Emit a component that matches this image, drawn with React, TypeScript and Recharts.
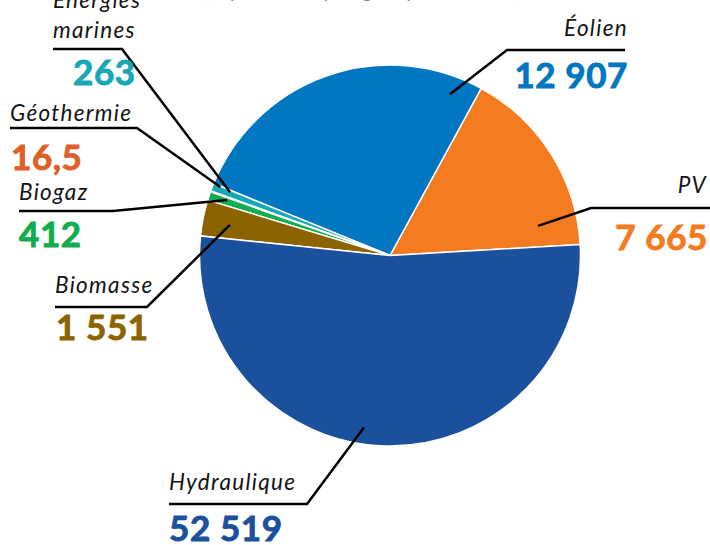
import React from 'react';
import { PieChart, Pie, Cell } from 'recharts';

// slice order goes counter-clockwise from 3 o'clock
const categories = ['PV', 'Éolien', 'Énergies marines', 'Géothermie', 'Biogaz', 'Biomasse', 'Hydraulique'];
const printedValues = [7665, 12907, 263, 16.5, 412, 1551, 52519];
// slice sizes as drawn in the picture (degrees of arc)
const sliceShares = [58.1, 96.4, 2.4, 0.3, 2.6, 11, 189.2];
const sliceColors = ['#f47b20', '#0077c0', '#17a7b6', '#e0602a', '#12ad50', '#8b6400', '#1b509d'];

const data = categories.map((name, i) => ({ name, share: sliceShares[i], printed: printedValues[i] }));

// leader lines: anchor in polar coords around the pie, then elbow and horizontal run
const labelLayout = [
    { angle: 11.3, r: 151, elbow: [591, 208], end: 712, anchor: 'end', nameXY: [707, 193], valXY: [708, 250] },
    { angle: 69.6, r: 172, elbow: [507, 50], end: 625, anchor: 'end', nameXY: [628, 36], valXY: [628, 88] },
    { angle: 158.4, r: 172, elbow: [122, 49], end: 53, anchor: 'start', nameXY: [53, 38], valXY: [73, 85], lines: ['Énergies', 'marines'] },
    { angle: 158.0, r: 183, elbow: [137, 128], end: 10, anchor: 'start', nameXY: [10, 121], valXY: [11, 170] },
    { angle: 161.2, r: 172, elbow: [113, 211], end: 19, anchor: 'start', nameXY: [19, 200], valXY: [19, 247] },
    { angle: 169.2, r: 163, elbow: [147, 307], end: 55, anchor: 'start', nameXY: [55, 293], valXY: [56, 340] },
    { angle: 261.4, r: 174, elbow: [307, 504], end: 169, anchor: 'start', nameXY: [169, 490], valXY: [169, 541] },
];

const fmt = (v: number) => v.toLocaleString('fr-FR').replace(/[\u202f\u00a0]/g, ' ');

const RADIAN = Math.PI / 180;

const nameStyle = { fontFamily: 'Lato', fontStyle: 'italic', fontSize: 22.5, fill: '#151515', letterSpacing: 1.3 } as const;

const renderLabel = (props: any) => {
    const { cx, cy, index } = props;
    const l = labelLayout[index];
    const sx = cx + l.r * Math.cos(l.angle * RADIAN);
    const sy = cy - l.r * Math.sin(l.angle * RADIAN);
    const name = categories[index];
    const lines = l.lines || [name];
    return (
        <g key={`lbl-${index}`}>
            <polyline
                points={`${sx},${sy} ${l.elbow[0]},${l.elbow[1]} ${l.end},${l.elbow[1]}`}
                fill="none"
                stroke="#000"
                strokeWidth={2.5}
            />
            {lines.map((t, k) => (
                <text key={k} x={l.nameXY[0]} y={l.nameXY[1] - (lines.length - 1 - k) * 30} textAnchor={l.anchor} {...nameStyle}>
                    {t}
                </text>
            ))}
            <text x={l.valXY[0]} y={l.valXY[1]} textAnchor={l.anchor}
                fontFamily="Lato" fontWeight={700} fontSize={35} letterSpacing={0.6}
                fill={sliceColors[index]} stroke={sliceColors[index]} strokeWidth={0.9}>
                {fmt(printedValues[index])}
            </text>
        </g>
    );
};

export default function App() {
    return (
        <div style={{ position: 'absolute', left: 0, top: 0, width: 710, height: 545, background: '#fff' }}>
            <PieChart width={710} height={545} margin={{ top: 0, right: 0, bottom: 0, left: 0 }}>
                <text x={205} y={-3} textAnchor="start" fontFamily="Lato" fontStyle="italic" fontSize={21} fill="#888" letterSpacing={1.3}>
                    (répartition par groupe, en MW)
                </text>
                <Pie
                    data={data}
                    dataKey="share"
                    nameKey="name"
                    cx={390}
                    cy={255.5}
                    outerRadius={190.5}
                    startAngle={3.3}
                    endAngle={363.3}
                    stroke="#fff"
                    strokeWidth={1.5}
                    label={renderLabel}
                    labelLine={false}
                    isAnimationActive={false}
                >
                    {data.map((d, i) => (
                        <Cell key={d.name} fill={sliceColors[i]} />
                    ))}
                </Pie>
            </PieChart>
        </div>
    );
}
